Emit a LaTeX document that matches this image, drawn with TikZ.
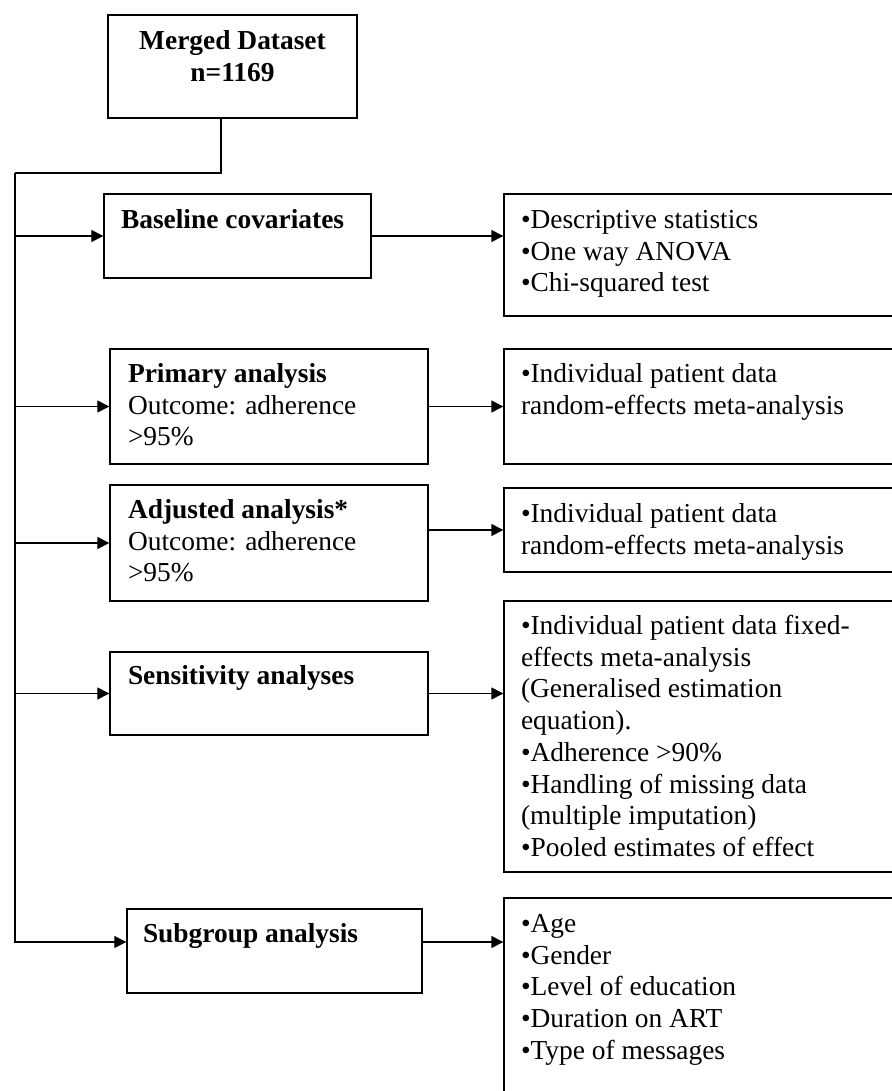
\documentclass[tikz,border=0pt]{standalone}
\usepackage{fontspec}
\setmainfont{Liberation Serif}
\usetikzlibrary{arrows.meta, calc, positioning}
\tikzset{
  every picture/.style={line width=1pt, font=\fontsize{19.5pt}{22.6pt}\selectfont},
  box/.style 2 args={draw, minimum width=#1*0.025cm, minimum height=#2*0.025cm, inner sep=0pt},
  txt/.style={anchor=north west, align=left, inner sep=0pt},
  head/.style={txt, font=\fontsize{19.5pt}{22.6pt}\selectfont\bfseries},
  arrow/.style={-{Triangle[length=0.3cm, width=0.3cm]}},
}

\begin{document}
\begin{tikzpicture}[x=0.025cm, y=-0.025cm]
  \useasboundingbox (0,0) rectangle (892,1091);
  \clip (0,0) rectangle (892,1091);
  % left column
  \node[box={249}{103}] (merged) at (232.5,66.5) {};
  \node[box={267}{84}] (base) at (237.5,236) {};
  \node[box={318}{115}] (prim) at (269,406.5) {};
  \node[box={318}{116}] (adj) at (269,543) {};
  \node[box={318}{83}] (sens) at (269,693.5) {};
  \node[box={295}{84}] (sub) at (274.5,951) {};
  % right column
  \node[box={396}{122}] (baseR) at (702,255) {};
  \node[box={396}{115}] (primR) at (702,406.5) {};
  \node[box={396}{84}] (adjR) at (702,530) {};
  \node[box={396}{271}] (sensR) at (702,736.5) {};
  \node[box={396}{202}] (subR) at (702,999) {};
  % texts (\strut on the first line, so the top sits 22px above its baseline)
  \node[head, anchor=north, align=center] (mergedT) at ($(merged.north)+(0,12)$) {\strut Merged Dataset\\n=1169};
  \node[head] (baseT) at ($(base.north west)+(17,12)$) {\strut Baseline covariates};
  \node[txt] (primT) at ($(prim.north west)+(18,11)$) {\strut\textbf{Primary analysis}\\Outcome: adherence\\>95\%};
  \node[txt] (adjT) at ($(adj.north west)+(18,11)$) {\strut\textbf{Adjusted analysis*}\\Outcome: adherence\\>95\%};
  \node[head] (sensT) at ($(sens.north west)+(18,10)$) {\strut Sensitivity analyses};
  \node[head] (subT) at ($(sub.north west)+(16,11)$) {\strut Subgroup analysis};
  \node[txt] (baseRT) at ($(baseR.north west)+(17,12)$) {\strut•Descriptive statistics\\•One way ANOVA\\•Chi-squared test};
  \node[txt] (primRT) at ($(primR.north west)+(17,11)$) {\strut•Individual patient data\\random-effects meta-analysis};
  \node[txt] (adjRT) at ($(adjR.north west)+(17,12)$) {\strut•Individual patient data\\random-effects meta-analysis};
  \node[txt] (sensRT) at ($(sensR.north west)+(17,11)$) {\strut•Individual patient data fixed-\\effects meta-analysis\\(Generalised estimation\\equation).\\•Adherence >90\%\\•Handling of missing data\\(multiple imputation)\\•Pooled estimates of effect};
  \node[txt] (subRT) at ($(subR.north west)+(17,12)$) {\strut•Age\\•Gender\\•Level of education\\•Duration on ART\\•Type of messages};
  % connectors
  \coordinate (trunk) at (15,173);
  \coordinate (subIn) at ($(sub.west)+(0,-9)$);
  \draw ($(merged.south)+(-11.5,0)$) |- (trunk);
  \draw[arrow] (trunk) |- (subIn);
  \draw[arrow] (trunk |- base.west) -- (base.west);
  \draw[arrow] (trunk |- prim.west) -- (prim.west);
  \draw[arrow] (trunk |- adj.west) -- (adj.west);
  \draw[arrow] (trunk |- sens.west) -- (sens.west);
  \draw[arrow] (base.east) -- (base.east -| baseR.west);
  \draw[arrow] (prim.east) -- (prim.east -| primR.west);
  \draw[arrow] (adj.east |- adjR.west) -- (adjR.west);
  \draw[arrow] (sens.east) -- (sens.east -| sensR.west);
  \draw[arrow] (subIn -| sub.east) -- (subIn -| subR.west);
\end{tikzpicture}
\end{document}
